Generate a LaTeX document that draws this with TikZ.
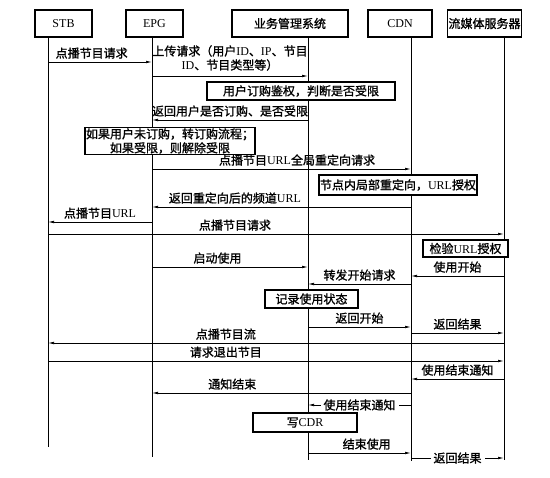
\documentclass[tikz,border=0pt]{standalone}
\usepackage{fontspec}
\setmainfont{Liberation Serif}
\newfontfamily\cjk[FakeBold=1.2]{Noto Sans CJK SC}
\newcommand\en[1]{{\rmfamily #1}}
\usetikzlibrary{arrows.meta}

\begin{document}
\begin{tikzpicture}[x=1pt,y=-1pt,
    font=\cjk\fontsize{12}{14}\selectfont,
    head/.style={draw,line width=1.1pt,minimum height=27pt,inner sep=1pt},
    note/.style={draw,fill=white,line width=1.3pt,inner sep=1pt,align=center},
    msg/.style={line width=0.7pt,-{Latex[length=6pt,width=2.6pt]}},
    txt/.style={above=2pt,inner sep=1pt},
    mid/.style={fill=white,inner sep=3pt}]
  \useasboundingbox (0,0) rectangle (550,478);

  \node[head,minimum width=57pt]  (stb) at (63.5,23.5)  {\en{STB}};
  \node[head,minimum width=57pt]  (epg) at (154.5,23.5) {\en{EPG}};
  \node[head,minimum width=116pt] (sys) at (290,23.5)   {业务管理系统};
  \node[head,minimum width=64pt]  (cdn) at (400,23.5)   {\en{CDN}};
  \node[head,minimum width=73pt]  (sms) at (484.5,23.5) {流媒体服务器};

  \foreach \n/\x/\e in {stb/48/447, epg/152/457, sys/308/460, cdn/411/461, sms/504/460}
  {\coordinate (l\n) at (\x,37);
   \draw[line width=0.8pt] (l\n) -- (\x,\e);
  };

  \foreach \a/\b/\y/\p/\t in {stb/epg/62/0.42/点播节目请求,
                              sys/epg/120/0.5/返回用户是否订购、是否受限,
                              epg/cdn/169/0.56/点播节目\en{URL}全局重定向请求,
                              cdn/epg/207/0.68/返回重定向后的频道\en{URL},
                              epg/stb/222/0.5/点播节目\en{URL},
                              stb/sms/234/0.41/点播节目请求,
                              epg/sys/267/0.42/启动使用,
                              sms/cdn/276/0.5/使用开始,
                              cdn/sys/284/0.5/转发开始请求,
                              sys/cdn/327/0.5/返回开始,
                              cdn/sms/333/0.5/返回结果,
                              sms/stb/343/0.61/点播节目流,
                              stb/sms/361/0.39/请求退出节目,
                              sms/cdn/379/0.5/使用结束通知,
                              cdn/epg/393/0.69/通知结束,
                              sys/cdn/453/0.57/结束使用}
  {\draw[msg] (l\a |- 0,\y) -- node[pos=\p,txt] {\t} (l\b |- 0,\y);
  };

  \draw[msg] (lepg |- 0,76) -- (lsys |- 0,76);
  \node[align=center,inner sep=0pt] (upl) at (230,58)
    {上传请求（用户\en{ID}、\en{IP}、节目\\\en{ID}、节目类型等）};

  \draw[msg] (lcdn |- 0,405) -- node[mid] {使用结束通知} (lsys |- 0,405);
  \draw[msg] (lcdn |- 0,458) -- node[mid] {返回结果} (lsms |- 0,458);

  \node[note,minimum width=188pt,minimum height=18pt] (auth) at (301,91)
    {用户订购鉴权，判断是否受限};
  \node[note,minimum width=170pt,minimum height=26pt] (order) at (170,141)
    {如果用户未订购，转订购流程；\\如果受限，则解除受限};
  \node[note,minimum width=158pt,minimum height=20pt] (redir) at (398,185)
    {节点内局部重定向，\en{URL}授权};
  \node[note,minimum width=85pt,minimum height=17pt] (check) at (465.5,248.5)
    {检验\en{URL}授权};
  \node[note,minimum width=93pt,minimum height=18pt] (rec) at (311.5,299)
    {记录使用状态};
  \node[note,minimum width=104pt,minimum height=19pt] (cdr) at (305,422.5)
    {写\en{CDR}};
\end{tikzpicture}
\end{document}
